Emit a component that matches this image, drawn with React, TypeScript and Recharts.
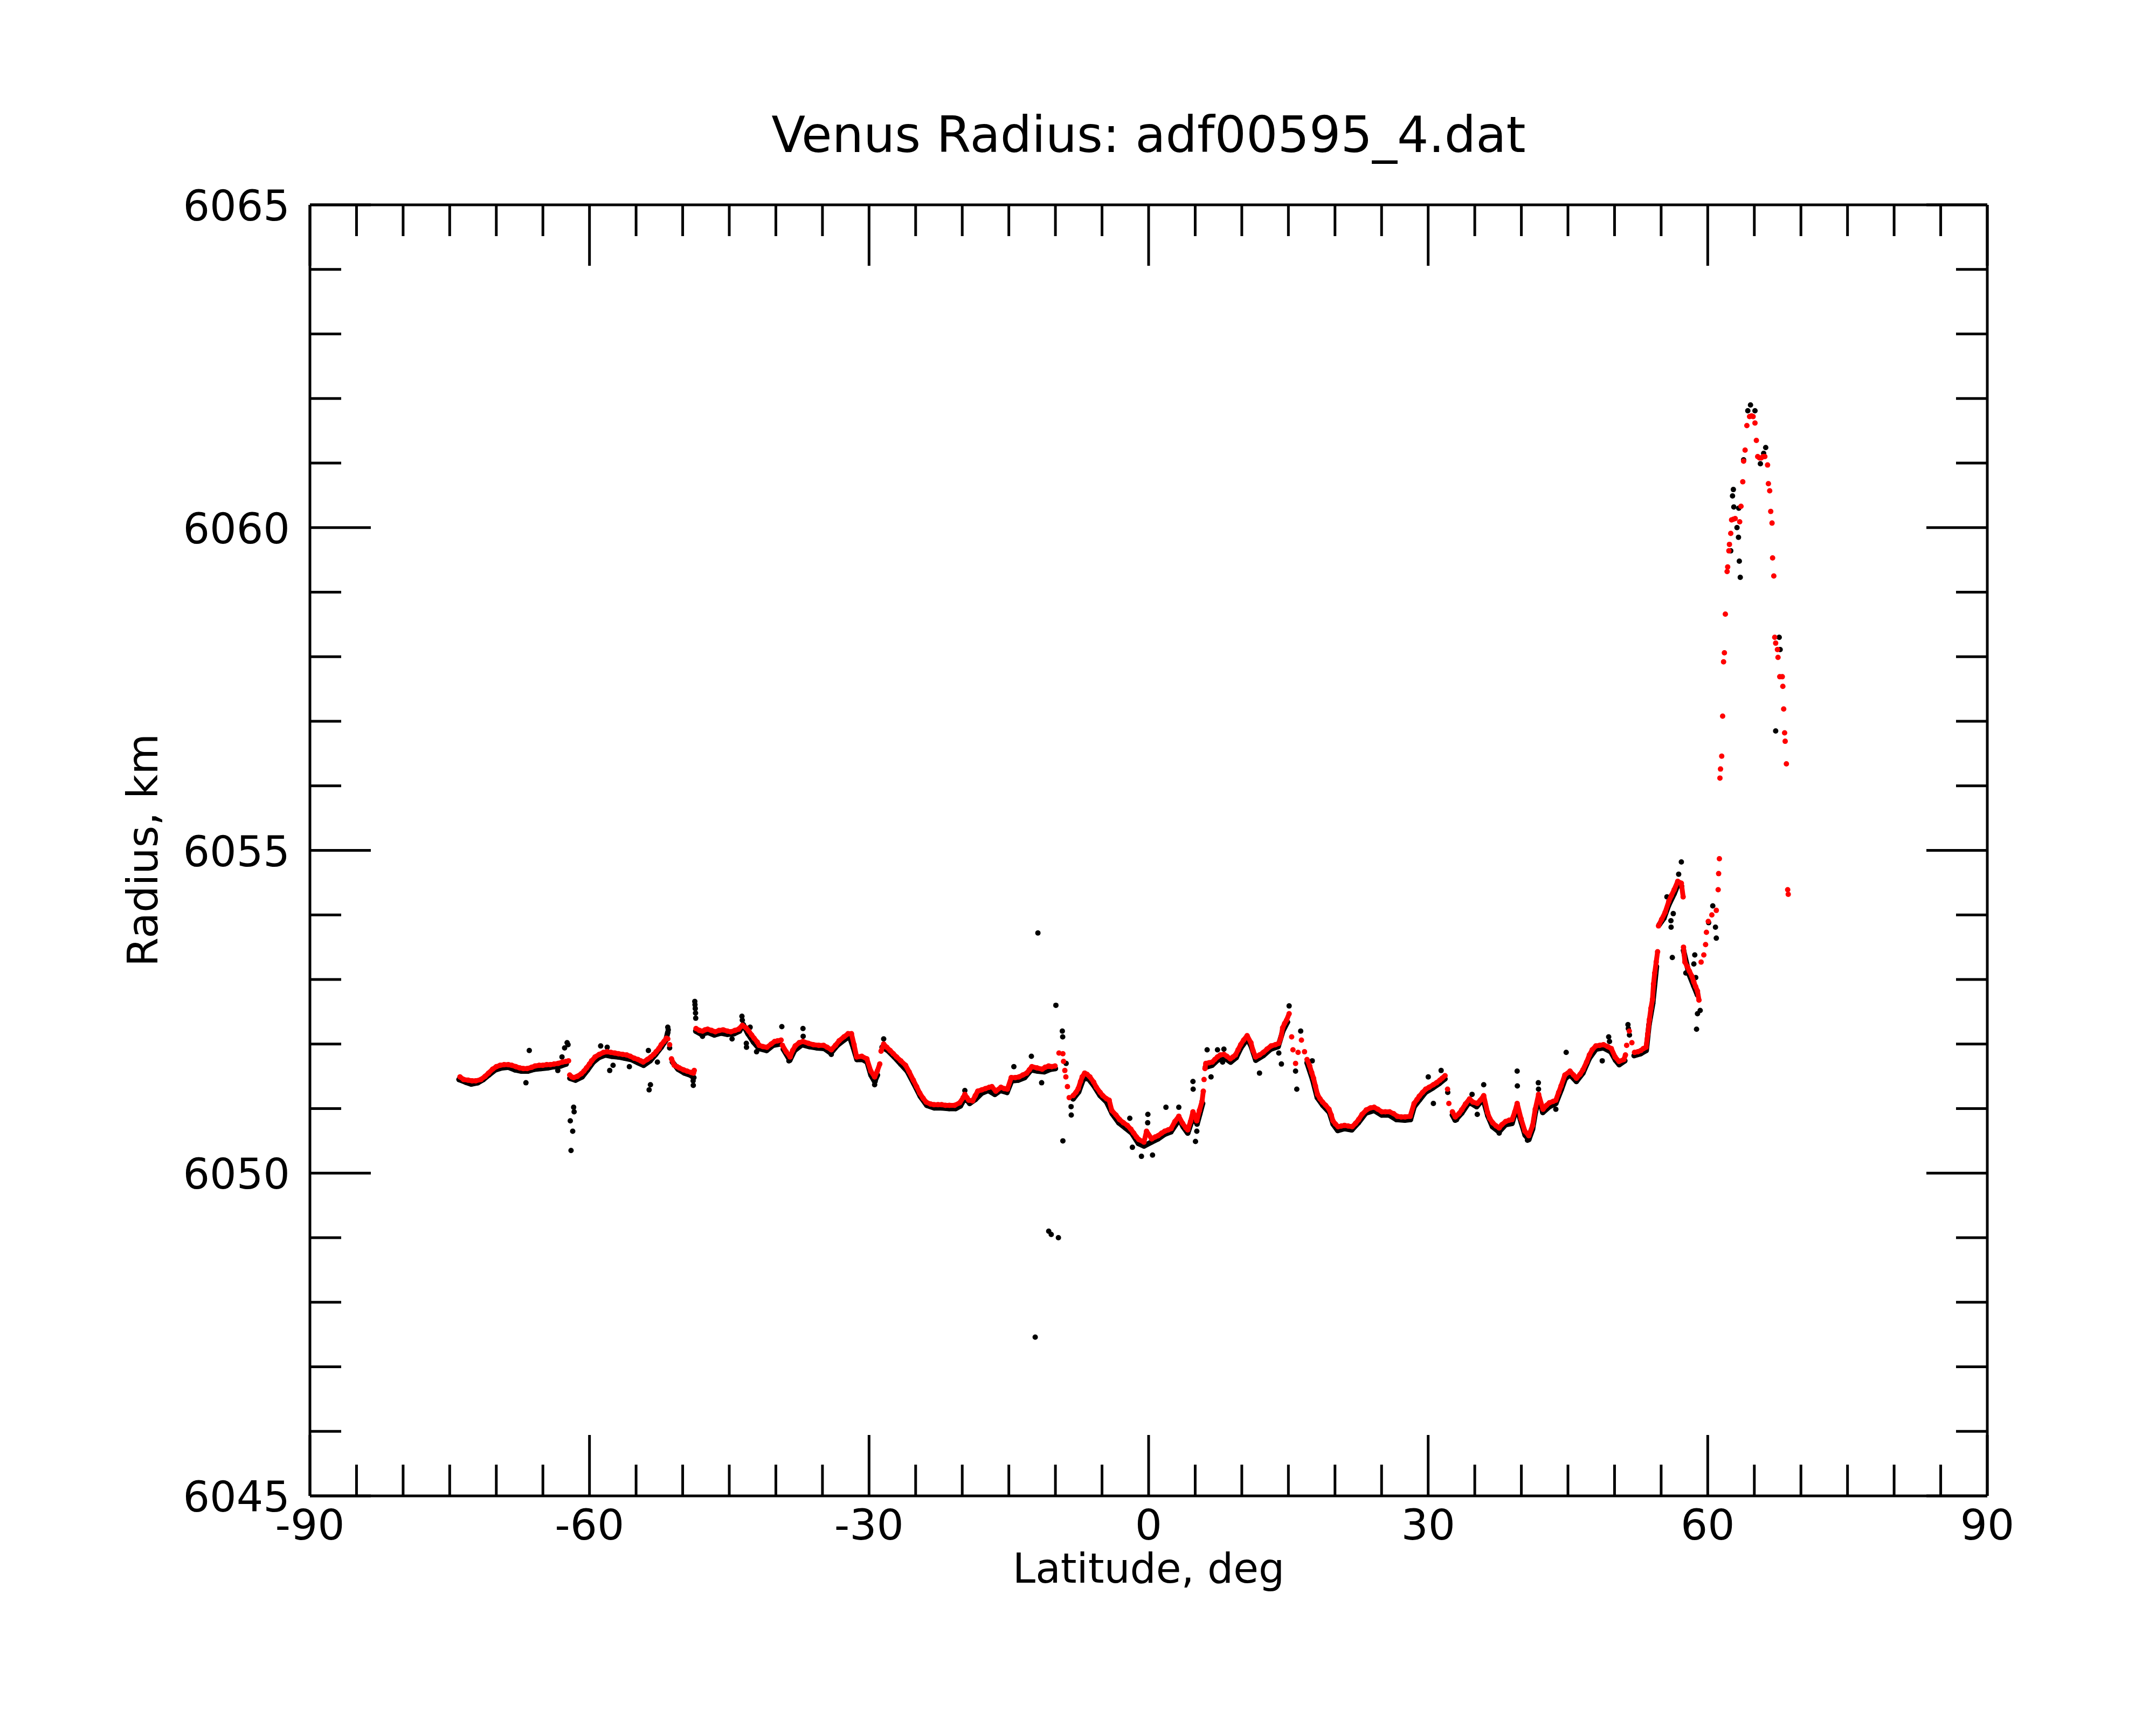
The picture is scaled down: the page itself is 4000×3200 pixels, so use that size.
import React from 'react';
import { ScatterChart, Scatter, XAxis, YAxis } from 'recharts';

type P = [number, number];

const title = 'Venus Radius: adf00595_4.dat';
const xLabel = 'Latitude, deg';
const yLabel = 'Radius, km';

const latTicks = [-90, -85, -80, -75, -70, -65, -60, -55, -50, -45, -40, -35, -30, -25, -20, -15, -10, -5, 0, 5, 10, 15, 20, 25, 30, 35, 40, 45, 50, 55, 60, 65, 70, 75, 80, 85, 90];
const latMajor = [-90, -60, -30, 0, 30, 60, 90];
const radiusTicks = [6045, 6046, 6047, 6048, 6049, 6050, 6051, 6052, 6053, 6054, 6055, 6056, 6057, 6058, 6059, 6060, 6061, 6062, 6063, 6064, 6065];
const radiusMajor = [6045, 6050, 6055, 6060, 6065];

// red: smoothed profile, dense runs (drawn as a chain of dots)
const redA: P[] = [[-73.9, 6051.49], [-73.5, 6051.45], [-73.04, 6051.44], [-72.6, 6051.43], [-72.2, 6051.43], [-71.66, 6051.45], [-71.2, 6051.5], [-70.83, 6051.55], [-70.4, 6051.61], [-70.0, 6051.65], [-69.6, 6051.67], [-69.17, 6051.68], [-68.7, 6051.68], [-68.34, 6051.67], [-67.9, 6051.65], [-67.5, 6051.63], [-67.1, 6051.62], [-66.68, 6051.62], [-66.2, 6051.64], [-65.85, 6051.66], [-65.4, 6051.67], [-65.02, 6051.67], [-64.6, 6051.68], [-64.19, 6051.68], [-63.8, 6051.69], [-63.36, 6051.7], [-62.9, 6051.72], [-62.53, 6051.73], [-62.25, 6051.74]];
const redB: P[] = [[-62.12, 6051.52], [-61.9, 6051.49], [-61.7, 6051.48], [-61.3, 6051.5], [-60.87, 6051.54], [-60.6, 6051.58], [-60.32, 6051.63], [-60.0, 6051.69], [-59.77, 6051.74], [-59.4, 6051.8], [-58.94, 6051.84], [-58.5, 6051.87], [-58.11, 6051.88], [-57.7, 6051.87], [-57.28, 6051.86], [-56.9, 6051.85], [-56.45, 6051.84], [-56.0, 6051.83], [-55.62, 6051.81], [-55.2, 6051.78], [-54.79, 6051.76], [-54.5, 6051.74], [-54.24, 6051.72], [-53.8, 6051.76], [-53.41, 6051.8], [-53.1, 6051.84], [-52.85, 6051.88], [-52.55, 6051.93], [-52.3, 6051.99], [-52.0, 6052.04], [-51.75, 6052.09], [-51.6, 6052.08]];
const redC: P[] = [[-51.2, 6051.77], [-50.9, 6051.67], [-50.6, 6051.65], [-50.36, 6051.63], [-49.9, 6051.6], [-49.53, 6051.58], [-49.1, 6051.56], [-48.84, 6051.55], [-48.76, 6051.59]];
const redD: P[] = [[-48.57, 6052.24], [-48.2, 6052.21], [-47.87, 6052.2], [-47.6, 6052.22], [-47.32, 6052.23], [-46.9, 6052.21], [-46.49, 6052.19], [-46.1, 6052.21], [-45.66, 6052.22], [-45.2, 6052.2], [-44.83, 6052.19], [-44.4, 6052.21], [-44.0, 6052.23], [-43.59, 6052.29], [-43.2, 6052.25], [-42.9, 6052.2], [-42.6, 6052.14], [-42.34, 6052.09], [-42.0, 6052.03], [-41.79, 6051.98], [-41.4, 6051.96], [-40.96, 6051.95], [-40.5, 6052.0], [-40.13, 6052.04], [-39.8, 6052.05], [-39.44, 6052.06]];
const redE: P[] = [[-39.3, 6051.98], [-38.89, 6051.88], [-38.47, 6051.8], [-38.2, 6051.9], [-37.92, 6051.97], [-37.5, 6052.02], [-37.09, 6052.04], [-36.5, 6052.01], [-35.98, 6051.99], [-35.4, 6051.98], [-34.88, 6051.98], [-34.5, 6051.95], [-34.05, 6051.91], [-33.6, 6051.98], [-33.21, 6052.05], [-32.7, 6052.11], [-32.25, 6052.16], [-31.89, 6052.16], [-31.61, 6051.99], [-31.33, 6051.8], [-30.78, 6051.81], [-30.23, 6051.77], [-29.81, 6051.58], [-29.4, 6051.49], [-29.12, 6051.58], [-28.85, 6051.69]];
const redF: P[] = [[-28.71, 6051.89], [-28.43, 6052.0], [-28.1, 6051.95], [-27.74, 6051.9], [-27.4, 6051.85], [-27.05, 6051.8], [-26.6, 6051.74], [-26.08, 6051.67], [-25.7, 6051.57], [-25.25, 6051.44], [-24.9, 6051.34], [-24.56, 6051.24], [-24.2, 6051.16], [-23.87, 6051.1], [-23.4, 6051.07], [-23.04, 6051.06], [-22.6, 6051.06], [-22.2, 6051.06], [-21.8, 6051.05], [-21.38, 6051.05], [-20.82, 6051.05], [-20.27, 6051.09], [-19.9, 6051.17], [-19.72, 6051.22], [-19.5, 6051.17], [-19.3, 6051.13], [-18.89, 6051.12], [-18.6, 6051.2], [-18.34, 6051.27], [-17.9, 6051.29], [-17.51, 6051.31], [-17.1, 6051.33], [-16.82, 6051.34], [-16.4, 6051.27], [-15.85, 6051.33], [-15.5, 6051.31], [-15.16, 6051.3], [-14.74, 6051.48], [-14.3, 6051.48], [-13.91, 6051.49], [-13.5, 6051.52], [-13.08, 6051.55], [-12.8, 6051.6], [-12.53, 6051.65], [-11.98, 6051.63], [-11.42, 6051.61], [-11.1, 6051.64], [-10.73, 6051.66], [-10.4, 6051.65], [-10.04, 6051.66]];
const redG: P[] = [[-8.1, 6051.2], [-7.8, 6051.25], [-7.55, 6051.31], [-7.3, 6051.42], [-7.13, 6051.49], [-6.86, 6051.55], [-6.6, 6051.53], [-6.3, 6051.49], [-5.9, 6051.41], [-5.61, 6051.33], [-5.2, 6051.25], [-4.92, 6051.2], [-4.5, 6051.15], [-4.23, 6051.13], [-3.95, 6050.97], [-3.5, 6050.9], [-3.12, 6050.83], [-2.7, 6050.78], [-2.29, 6050.74], [-1.9, 6050.68], [-1.6, 6050.62], [-1.3, 6050.56], [-1.05, 6050.52], [-0.5, 6050.48], [-0.22, 6050.65], [0.33, 6050.53], [0.7, 6050.56], [1.02, 6050.58], [1.4, 6050.62], [1.72, 6050.65], [2.1, 6050.67], [2.41, 6050.69], [2.82, 6050.8], [3.24, 6050.88], [3.65, 6050.77], [4.0, 6050.7], [4.2, 6050.67], [4.5, 6050.8], [4.76, 6050.95], [5.17, 6050.81], [5.45, 6050.97], [5.73, 6051.11], [5.87, 6051.27]];
const redH: P[] = [[6.05, 6051.62], [6.14, 6051.7], [6.5, 6051.71], [6.83, 6051.72], [7.1, 6051.76], [7.39, 6051.8], [7.7, 6051.83], [8.08, 6051.84], [8.4, 6051.81], [8.77, 6051.77], [9.05, 6051.8], [9.32, 6051.83], [9.6, 6051.91], [9.88, 6051.99], [10.2, 6052.06], [10.57, 6052.13], [10.98, 6052.02], [11.2, 6051.9], [11.48, 6051.8], [11.9, 6051.83], [12.31, 6051.87], [12.7, 6051.92], [13.14, 6051.97], [13.6, 6051.99], [13.97, 6052.01], [14.2, 6052.1], [14.38, 6052.25], [14.6, 6052.32], [14.8, 6052.37], [15.08, 6052.47]];
const redI: P[] = [[17.0, 6051.76], [17.29, 6051.66], [17.5, 6051.56], [17.7, 6051.47], [17.9, 6051.35], [18.12, 6051.22], [18.4, 6051.15], [18.67, 6051.1], [19.0, 6051.05], [19.36, 6050.99], [19.6, 6050.9], [19.78, 6050.81], [20.05, 6050.76], [20.33, 6050.72], [20.7, 6050.73], [21.02, 6050.74], [21.4, 6050.73], [21.85, 6050.72], [22.2, 6050.77], [22.54, 6050.83], [22.9, 6050.91], [23.37, 6050.98], [23.8, 6051.01], [24.2, 6051.02], [24.6, 6050.99], [25.03, 6050.95], [25.4, 6050.95], [25.86, 6050.95], [26.3, 6050.92], [26.69, 6050.88], [27.1, 6050.87], [27.52, 6050.87], [28.07, 6050.88], [28.49, 6051.08], [28.8, 6051.14], [29.04, 6051.19], [29.4, 6051.25], [29.73, 6051.3], [30.1, 6051.33], [30.56, 6051.37], [30.9, 6051.4], [31.26, 6051.44], [31.5, 6051.47], [31.81, 6051.51]];
const redJ: P[] = [[32.6, 6050.95], [32.91, 6050.87], [33.3, 6050.92], [33.6, 6050.98], [34.0, 6051.07], [34.44, 6051.15], [34.8, 6051.1], [35.27, 6051.08], [35.6, 6051.13], [35.96, 6051.2], [36.37, 6050.94], [36.6, 6050.85], [36.92, 6050.78], [37.3, 6050.73], [37.62, 6050.7], [37.9, 6050.75], [38.31, 6050.8], [38.7, 6050.82], [39.0, 6050.83], [39.3, 6050.95], [39.55, 6051.08], [39.97, 6050.84], [40.38, 6050.65], [40.8, 6050.58], [41.21, 6050.74], [41.49, 6050.99], [41.85, 6051.22], [42.32, 6050.99], [42.7, 6051.05], [43.01, 6051.09], [43.4, 6051.11], [43.7, 6051.13], [44.0, 6051.25], [44.26, 6051.35], [44.67, 6051.52], [45.22, 6051.58], [45.6, 6051.52], [45.91, 6051.47], [46.3, 6051.53], [46.61, 6051.6], [47.0, 6051.72], [47.3, 6051.83], [47.6, 6051.91], [47.99, 6051.97], [48.4, 6051.98], [48.82, 6051.99], [49.26, 6051.96], [49.65, 6051.93], [50.06, 6051.8], [50.48, 6051.73], [51.0, 6051.76], [51.17, 6051.83]];
const redK: P[] = [[52.14, 6051.87], [52.5, 6051.88], [52.83, 6051.9], [53.1, 6051.93], [53.38, 6051.95], [53.57, 6052.16], [53.74, 6052.38], [53.9, 6052.55], [54.07, 6052.69], [54.18, 6052.93], [54.31, 6053.1], [54.47, 6053.27], [54.62, 6053.43]];
const redL: P[] = [[54.72, 6053.83], [55.05, 6053.93], [55.43, 6054.04], [55.82, 6054.21], [56.1, 6054.3], [56.4, 6054.39], [56.78, 6054.52], [57.17, 6054.49], [57.36, 6054.28]];
const redM: P[] = [[57.4, 6053.5], [57.55, 6053.27], [57.8, 6053.2], [58.03, 6053.13], [58.3, 6053.05], [58.51, 6052.96], [58.7, 6052.89], [58.9, 6052.82], [59.06, 6052.68]];
// red: separate dots (steps, and the sparse high-latitude peak)
const redSingles: P[] = [[-51.4, 6051.99], [-9.62, 6051.86], [-9.2, 6051.85], [-9.13, 6051.73], [-8.99, 6051.59], [-8.88, 6051.49], [-8.71, 6051.34], [-8.52, 6051.17], [5.95, 6051.45], [15.35, 6052.11], [15.49, 6051.91], [15.77, 6051.7], [16.04, 6051.87], [16.4, 6052.06], [16.73, 6051.88], [32.08, 6051.3], [32.22, 6051.08], [51.3, 6051.98], [51.58, 6052.2], [51.86, 6052.02]];
const redPeak: P[] = [[59.29, 6053.27], [59.58, 6053.38], [59.77, 6053.54], [59.86, 6053.73], [60.06, 6053.9], [60.44, 6054.0], [60.92, 6054.07], [61.12, 6054.39], [61.17, 6054.64], [61.25, 6054.87], [61.31, 6056.12], [61.37, 6056.26], [61.5, 6056.46], [61.6, 6057.08], [61.7, 6057.92], [61.79, 6058.06], [61.89, 6058.66], [62.08, 6059.32], [62.14, 6059.39], [62.27, 6059.64], [62.33, 6059.74], [62.47, 6059.91], [62.56, 6060.12], [62.75, 6060.13], [62.95, 6060.14], [63.43, 6060.09], [63.57, 6060.33], [63.76, 6060.71], [63.85, 6061.03], [64.01, 6061.2], [64.2, 6061.58], [64.49, 6061.72], [64.7, 6061.73], [64.87, 6061.72], [65.07, 6061.62], [65.22, 6061.35], [65.36, 6061.1], [65.55, 6061.08], [65.74, 6061.08], [65.95, 6061.1], [66.13, 6061.1], [66.42, 6060.97], [66.51, 6060.68], [66.65, 6060.57], [66.76, 6060.25], [66.9, 6060.07], [66.96, 6059.53], [67.09, 6059.25], [67.19, 6058.3], [67.29, 6058.21], [67.48, 6058.11], [67.54, 6057.99], [67.73, 6057.69], [68.0, 6057.69], [68.06, 6057.54], [68.15, 6057.19], [68.25, 6056.82], [68.31, 6056.69], [68.44, 6056.34], [68.58, 6054.39], [68.64, 6054.32]];

// black: raw radii, dense band under the red
const blackA: P[] = [[-74.0, 6051.45], [-73.3, 6051.41], [-72.7, 6051.38], [-72.0, 6051.4], [-71.4, 6051.45], [-70.8, 6051.52], [-70.1, 6051.6], [-69.4, 6051.63], [-68.7, 6051.64], [-68.0, 6051.6], [-67.3, 6051.58], [-66.6, 6051.58], [-65.9, 6051.61], [-65.2, 6051.62], [-64.5, 6051.63], [-63.8, 6051.65], [-63.1, 6051.66], [-62.5, 6051.69]];
const blackB: P[] = [[-62.1, 6051.47], [-61.5, 6051.44], [-60.8, 6051.49], [-60.2, 6051.6], [-59.6, 6051.72], [-59.0, 6051.79], [-58.3, 6051.83], [-57.6, 6051.81], [-56.9, 6051.8], [-56.2, 6051.78], [-55.5, 6051.76], [-54.8, 6051.71], [-54.2, 6051.67], [-53.5, 6051.74], [-52.9, 6051.84], [-52.3, 6051.95], [-51.8, 6052.06], [-51.6, 6052.18]];
const blackC: P[] = [[-51.1, 6051.72], [-50.5, 6051.61], [-49.8, 6051.55], [-49.2, 6051.52], [-48.8, 6051.48]];
const blackD: P[] = [[-48.6, 6052.2], [-48.0, 6052.15], [-47.3, 6052.18], [-46.6, 6052.14], [-45.9, 6052.17], [-45.2, 6052.15], [-44.5, 6052.16], [-43.9, 6052.2], [-43.5, 6052.3], [-43.0, 6052.16], [-42.4, 6052.03], [-41.8, 6051.93], [-41.0, 6051.9], [-40.3, 6051.98], [-39.6, 6052.0]];
const blackE: P[] = [[-39.2, 6051.92], [-38.5, 6051.75], [-38.0, 6051.9], [-37.2, 6051.99], [-36.4, 6051.96], [-35.6, 6051.94], [-34.8, 6051.93], [-34.1, 6051.86], [-33.4, 6051.98], [-32.7, 6052.06], [-32.1, 6052.12], [-31.7, 6051.95], [-31.3, 6051.76], [-30.7, 6051.76], [-30.2, 6051.72], [-29.8, 6051.52], [-29.4, 6051.42], [-29.1, 6051.52]];
const blackF: P[] = [[-28.6, 6051.95], [-28.0, 6051.9], [-27.3, 6051.8], [-26.6, 6051.69], [-25.9, 6051.58], [-25.2, 6051.39], [-24.5, 6051.19], [-23.8, 6051.05], [-23.0, 6051.01], [-22.2, 6051.01], [-21.4, 6051.0], [-20.7, 6051.0], [-20.2, 6051.04], [-19.7, 6051.17], [-19.2, 6051.08], [-18.6, 6051.14], [-17.9, 6051.24], [-17.2, 6051.28], [-16.5, 6051.22], [-15.9, 6051.28], [-15.2, 6051.25], [-14.7, 6051.43], [-14.0, 6051.44], [-13.3, 6051.48], [-12.6, 6051.6], [-11.9, 6051.58], [-11.2, 6051.57], [-10.5, 6051.61], [-10.0, 6051.62]];
const blackG: P[] = [[-8.1, 6051.15], [-7.5, 6051.26], [-7.0, 6051.46], [-6.5, 6051.47], [-5.9, 6051.36], [-5.2, 6051.2], [-4.5, 6051.1], [-3.9, 6050.92], [-3.2, 6050.78], [-2.5, 6050.7], [-1.8, 6050.62], [-1.1, 6050.46], [-0.5, 6050.42], [0.3, 6050.48], [1.0, 6050.53], [1.7, 6050.6], [2.4, 6050.64], [2.9, 6050.75], [3.3, 6050.83], [3.7, 6050.72], [4.2, 6050.62], [4.8, 6050.88], [5.2, 6050.76], [5.5, 6050.92], [5.8, 6051.08]];
const blackH: P[] = [[6.1, 6051.64], [6.8, 6051.67], [7.4, 6051.75], [8.1, 6051.79], [8.8, 6051.72], [9.4, 6051.79], [9.9, 6051.94], [10.6, 6052.08], [11.0, 6051.97], [11.5, 6051.75], [12.3, 6051.82], [13.1, 6051.92], [13.9, 6051.96], [14.4, 6052.2], [14.9, 6052.34]];
const blackI: P[] = [[17.0, 6051.71], [17.6, 6051.45], [18.1, 6051.17], [18.7, 6051.05], [19.4, 6050.94], [19.8, 6050.76], [20.3, 6050.66], [21.0, 6050.69], [21.8, 6050.67], [22.5, 6050.78], [23.3, 6050.93], [24.2, 6050.97], [25.0, 6050.9], [25.8, 6050.9], [26.6, 6050.83], [27.5, 6050.82], [28.1, 6050.83], [28.5, 6051.03], [29.1, 6051.14], [29.7, 6051.25], [30.5, 6051.32], [31.2, 6051.39], [31.8, 6051.46]];
const blackJ: P[] = [[32.6, 6050.9], [32.9, 6050.82], [33.6, 6050.93], [34.4, 6051.1], [35.2, 6051.03], [35.9, 6051.15], [36.4, 6050.89], [36.9, 6050.72], [37.6, 6050.64], [38.3, 6050.75], [39.0, 6050.77], [39.5, 6051.02], [40.0, 6050.78], [40.4, 6050.59], [40.8, 6050.52], [41.2, 6050.68], [41.5, 6050.94], [41.9, 6051.17], [42.3, 6050.94], [43.0, 6051.03], [43.7, 6051.08], [44.3, 6051.3], [44.7, 6051.46], [45.2, 6051.53], [45.9, 6051.42], [46.6, 6051.55], [47.3, 6051.78], [48.0, 6051.92], [48.8, 6051.94], [49.6, 6051.88], [50.1, 6051.75], [50.5, 6051.68], [51.1, 6051.74]];
const blackK: P[] = [[52.1, 6051.82], [52.8, 6051.85], [53.4, 6051.9], [53.7, 6052.3], [54.1, 6052.63], [54.5, 6053.2]];
const blackL: P[] = [[54.8, 6053.85], [55.3, 6053.95], [55.8, 6054.15], [56.4, 6054.33], [56.8, 6054.47], [57.2, 6054.44]];
const blackM: P[] = [[57.4, 6053.45], [58.0, 6053.08], [58.5, 6052.9], [58.9, 6052.76]];
// black: scattered raw points off the band
const blackSingles: P[] = [[-66.82, 6051.4], [-66.46, 6051.9], [-63.4, 6051.59], [-62.95, 6051.8], [-62.67, 6051.94], [-62.4, 6052.02], [-62.3, 6051.99], [-61.7, 6051.02], [-61.65, 6050.95], [-62.06, 6050.81], [-61.8, 6050.65], [-61.98, 6050.35], [-58.8, 6051.97], [-58.1, 6051.95], [-57.47, 6051.67], [-57.83, 6051.59], [-55.72, 6051.65], [-53.68, 6051.9], [-52.71, 6051.72], [-53.46, 6051.37], [-53.6, 6051.29], [-51.6, 6052.26], [-51.55, 6052.22], [-51.4, 6051.94], [-48.9, 6051.49], [-48.88, 6051.43], [-48.86, 6051.36], [-48.7, 6052.66], [-48.68, 6052.61], [-48.65, 6052.55], [-48.62, 6052.48], [-48.6, 6052.4], [-47.87, 6052.12], [-44.7, 6052.08], [-43.64, 6052.43], [-43.6, 6052.37], [-42.76, 6052.26], [-43.17, 6052.01], [-43.15, 6051.95], [-42.07, 6051.88], [-39.36, 6052.27], [-38.6, 6051.74], [-37.09, 6052.24], [-37.07, 6052.12], [-34.05, 6051.84], [-29.4, 6051.37], [-29.35, 6051.42], [-28.43, 6052.08], [-19.72, 6051.28], [-14.46, 6051.65], [-12.58, 6051.81], [-11.88, 6053.72], [-12.17, 6047.46], [-11.48, 6051.4], [-10.72, 6049.1], [-10.45, 6049.05], [-9.95, 6052.6], [-9.68, 6049.0], [-9.26, 6052.2], [-9.22, 6052.11], [-9.2, 6050.5], [-8.85, 6051.7], [-8.32, 6051.03], [-8.3, 6050.9], [-2.02, 6050.85], [-1.74, 6050.4], [-0.77, 6050.26], [-0.08, 6050.91], [-0.1, 6050.78], [0.42, 6050.28], [1.86, 6051.02], [3.24, 6051.02], [4.76, 6051.42], [4.78, 6051.3], [5.03, 6050.49], [5.17, 6050.65], [6.28, 6051.91], [6.7, 6051.49], [7.39, 6051.91], [7.94, 6051.72], [8.08, 6051.92], [11.9, 6051.55], [13.97, 6051.86], [14.25, 6051.69], [15.08, 6052.59], [15.77, 6051.58], [15.9, 6051.3], [16.32, 6052.2], [17.56, 6051.74], [30.01, 6051.49], [30.56, 6051.08], [31.39, 6051.59], [32.1, 6051.25], [33.05, 6050.83], [34.71, 6051.22], [35.27, 6050.91], [35.96, 6051.37], [37.62, 6050.62], [39.55, 6051.58], [39.57, 6051.35], [40.66, 6050.51], [41.82, 6051.4], [41.84, 6051.3], [43.7, 6050.99], [44.81, 6051.87], [48.68, 6051.74], [49.37, 6052.11], [49.46, 6052.04], [51.44, 6052.3], [51.48, 6052.24], [51.6, 6052.14], [55.62, 6054.28], [56.05, 6053.91], [56.07, 6053.81], [56.2, 6053.34], [56.3, 6054.02], [56.88, 6054.63], [57.17, 6054.82], [57.65, 6053.1], [58.51, 6053.24], [58.61, 6053.38], [58.71, 6053.03], [58.8, 6052.23], [58.9, 6052.47], [59.19, 6052.52], [60.54, 6054.14], [60.83, 6053.81], [60.92, 6053.64], [60.1, 6053.88], [62.47, 6059.64], [62.66, 6060.49], [62.75, 6060.59], [62.8, 6060.32], [63.14, 6060.0], [63.3, 6059.85], [63.33, 6060.3], [63.39, 6059.48], [63.49, 6059.23], [63.85, 6061.05], [64.59, 6061.9], [64.3, 6061.81], [65.07, 6061.81], [65.65, 6060.99], [66.22, 6061.24], [66.0, 6061.15], [67.29, 6056.85], [67.67, 6058.3], [67.77, 6058.11]];

const redRuns = [redA, redB, redC, redD, redE, redF, redG, redH, redI, redJ, redK, redL, redM];
const blackRuns = [blackA, blackB, blackC, blackD, blackE, blackF, blackG, blackH, blackI, blackJ, blackK, blackL, blackM];

const W = 4000;
const H = 3200;
const FONT = 'DejaVu Sans';
const RED = '#ff0000';
const BLACK = '#000000';

const toXY = (pts: P[]) => pts.map(([lat, r]) => ({ lat, r }));

const redDot = (p: any) => <circle cx={p.cx} cy={p.cy} r={5} fill={RED} />;
const blackDot = (p: any) => <circle cx={p.cx} cy={p.cy} r={5} fill={BLACK} />;

// ticks point into the plot on all four sides; the axis line sits at (x, y)
function BottomTick({ x, y, payload }: any) {
  const major = latMajor.includes(payload.value);
  return (
    <g>
      <line x1={x} y1={y} x2={x} y2={y - (major ? 113 : 58)} stroke={BLACK} strokeWidth={5} />
      {major && (
        <text x={x} y={y + 81} textAnchor="middle" fontSize={79} fontFamily={FONT} fill={BLACK}>
          {String(payload.value)}
        </text>
      )}
    </g>
  );
}

function TopTick({ x, y, payload }: any) {
  const major = latMajor.includes(payload.value);
  return <line x1={x} y1={y} x2={x} y2={y + (major ? 113 : 58)} stroke={BLACK} strokeWidth={5} />;
}

function LeftTick({ x, y, payload }: any) {
  const major = radiusMajor.includes(payload.value);
  return (
    <g>
      <line x1={x} y1={y} x2={x + (major ? 113 : 58)} y2={y} stroke={BLACK} strokeWidth={5} />
      {major && (
        <text x={x - 37} y={y + 29} textAnchor="end" fontSize={78} fontFamily={FONT} fill={BLACK}>
          {String(payload.value)}
        </text>
      )}
    </g>
  );
}

function RightTick({ x, y, payload }: any) {
  const major = radiusMajor.includes(payload.value);
  return <line x1={x} y1={y} x2={x - (major ? 113 : 58)} y2={y} stroke={BLACK} strokeWidth={5} />;
}

export default function App() {
  const axisLine = { stroke: BLACK, strokeWidth: 5 };
  return (
    <div style={{ position: 'absolute', left: 0, top: 0, width: W, height: H, background: '#fff' }}>
      <ScatterChart width={W} height={H} margin={{ top: 379, right: 312, bottom: 424, left: 574 }}>
        <XAxis
          xAxisId="bottom"
          type="number"
          dataKey="lat"
          domain={[-90, 90]}
          allowDataOverflow
          ticks={latTicks}
          interval={0}
          height={1}
          tickSize={0}
          tickMargin={0}
          tickLine={false}
          axisLine={axisLine}
          tick={(p: any) => <BottomTick {...p} />}
        />
        <XAxis
          xAxisId="top"
          orientation="top"
          type="number"
          dataKey="lat"
          domain={[-90, 90]}
          allowDataOverflow
          ticks={latTicks}
          interval={0}
          height={1}
          tickSize={0}
          tickMargin={0}
          tickLine={false}
          axisLine={axisLine}
          tick={(p: any) => <TopTick {...p} />}
        />
        <YAxis
          yAxisId="left"
          type="number"
          dataKey="r"
          domain={[6045, 6065]}
          allowDataOverflow
          ticks={radiusTicks}
          interval={0}
          width={1}
          tickSize={0}
          tickMargin={0}
          tickLine={false}
          axisLine={axisLine}
          tick={(p: any) => <LeftTick {...p} />}
        />
        <YAxis
          yAxisId="right"
          orientation="right"
          type="number"
          dataKey="r"
          domain={[6045, 6065]}
          allowDataOverflow
          ticks={radiusTicks}
          interval={0}
          width={1}
          tickSize={0}
          tickMargin={0}
          tickLine={false}
          axisLine={axisLine}
          tick={(p: any) => <RightTick {...p} />}
        />

        {blackRuns.map((run, i) => (
          <Scatter
            key={'b' + i}
            xAxisId="bottom"
            yAxisId="left"
            data={toXY(run)}
            line={{ stroke: BLACK, strokeWidth: 10, strokeLinejoin: 'round', strokeLinecap: 'round' }}
            lineType="joint"
            shape={blackDot}
            isAnimationActive={false}
          />
        ))}
        <Scatter
          xAxisId="top"
          yAxisId="right"
          data={toXY(blackSingles)}
          shape={blackDot}
          isAnimationActive={false}
        />

        {redRuns.map((run, i) => (
          <Scatter
            key={'r' + i}
            xAxisId="bottom"
            yAxisId="left"
            data={toXY(run)}
            line={{ stroke: RED, strokeWidth: 9, strokeLinejoin: 'round', strokeLinecap: 'round' }}
            lineType="joint"
            shape={redDot}
            isAnimationActive={false}
          />
        ))}
        <Scatter xAxisId="bottom" yAxisId="left" data={toXY(redSingles)} shape={redDot} isAnimationActive={false} />
        <Scatter xAxisId="bottom" yAxisId="left" data={toXY(redPeak)} shape={redDot} isAnimationActive={false} />
      </ScatterChart>

      <svg width={W} height={H} style={{ position: 'absolute', left: 0, top: 0, pointerEvents: 'none' }}>
        <text x={2131} y={282} textAnchor="middle" fontSize={92} fontFamily={FONT} fill={BLACK}>
          {title}
        </text>
        <text x={2131} y={2936} textAnchor="middle" fontSize={76} fontFamily={FONT} fill={BLACK}>
          {xLabel}
        </text>
        <text
          transform="translate(292,1577) rotate(-90)"
          textAnchor="middle"
          fontSize={78}
          fontFamily={FONT}
          fill={BLACK}
        >
          {yLabel}
        </text>
      </svg>
    </div>
  );
}
